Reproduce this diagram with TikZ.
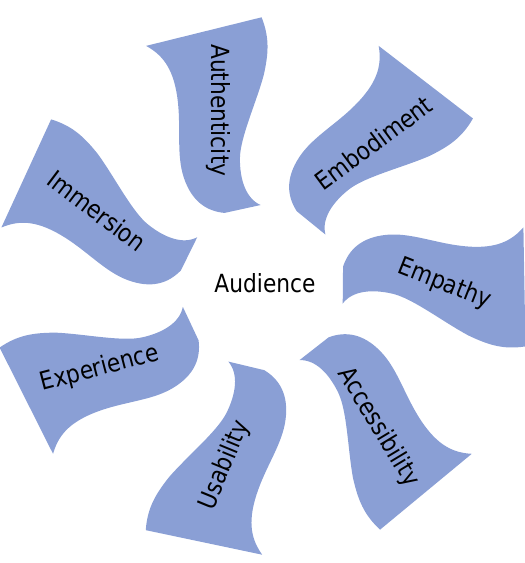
\documentclass[tikz,border=0pt]{standalone}
\usepackage{fontspec}
\setmainfont{DejaVu Sans}[FakeStretch=0.87]
\usetikzlibrary{calc}
\definecolor{wavefill}{RGB}{138,159,213}
\tikzset{
  wave/.style={fill=wavefill, draw=none},
  wavetext/.style={font=\fontsize{25}{29}\selectfont, text=black, inner sep=0pt},
}
\begin{document}
\begin{tikzpicture}[x=1pt,y=1pt]
    \useasboundingbox (0,0) rectangle (525,563);
    \coordinate (hub) at (262.4,276);
    % Waves %
    \foreach \ang/\lbl/\tilt/\nm in {1/Empathy/-21.6/empathy,
        52.4/Embodiment/36.5/embodiment,
        103.9/Authenticity/-90/authenticity,
        155.3/Immersion/-37/immersion,
        206.7/Experience/14.7/experience,
        258.1/Usability/67.6/usability,
        309.6/Accessibility/-58.9/accessibility}{
        \fill[wave, shift={(hub)}, rotate=\ang] (80,-18) -- (81,19)
            .. controls (87,36) and (100,48) .. (125,50)
            .. controls (150,52) and (175,40) .. (205,37)
            .. controls (235,34) and (250,42) .. (262,55) -- (262,-64)
            .. controls (240,-67) and (225,-62) .. (205,-52)
            .. controls (180,-38) and (150,-14) .. (130,-9)
            .. controls (110,-4) and (90,-5) .. (80,-18) -- cycle;
        \node[wavetext, rotate=\tilt] (\nm) at ($(hub)+(\ang:182)$) {\lbl};
    }
    % Centre %
    \node[wavetext] (audience) at (265,280) {Audience};
\end{tikzpicture}
\end{document}
